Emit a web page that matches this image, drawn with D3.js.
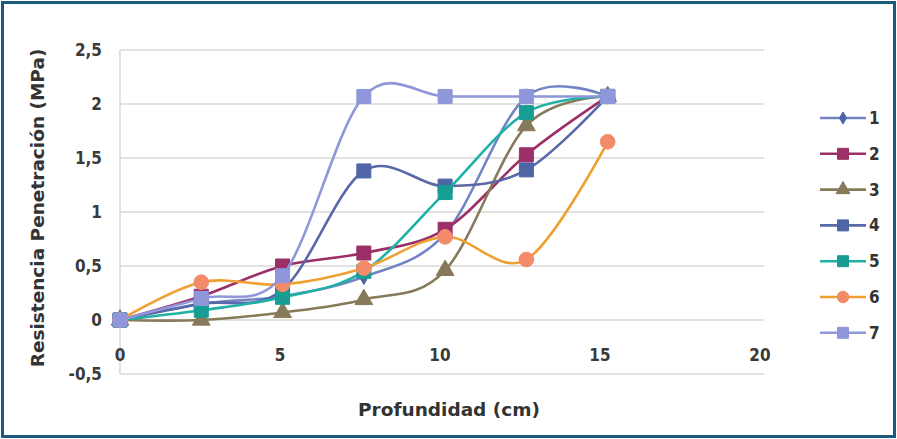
<!DOCTYPE html>
<html>
<head>
<meta charset="utf-8">
<script src="https://cdn.jsdelivr.net/npm/d3@7"></script>
<style>
  html, body { margin: 0; padding: 0; background: #fff; }
  svg { display: block; }
</style>
</head>
<body>
<svg id="chart" width="897" height="439"></svg>
<script>
// Depth of each reading (cm)
const depths = [0, 2.54, 5.08, 7.62, 10.16, 12.7, 15.24];

// Penetration resistance (MPa) per sampling point
const s1 = [0, 0.15, 0.22, 0.40, 0.80, 2.07, 2.07];
const s2 = [0, 0.22, 0.50, 0.62, 0.84, 1.53, 2.07];
const s3 = [0, 0.00, 0.07, 0.19, 0.46, 1.80, 2.07];
const s4 = [0, 0.15, 0.28, 1.38, 1.24, 1.39, 2.07];
const s5 = [0, 0.09, 0.21, 0.45, 1.18, 1.92, 2.07];
const s6 = [0, 0.35, 0.33, 0.48, 0.77, 0.56, 1.65];
const s7 = [0, 0.20, 0.41, 2.07, 2.07, 2.07, 2.07];

const seriesNames = ["1", "2", "3", "4", "5", "6", "7"];
const seriesValues = [s1, s2, s3, s4, s5, s6, s7];

const xTicks = [0, 5, 10, 15, 20];
const yTicks = [-0.5, 0, 0.5, 1, 1.5, 2, 2.5];
const yTickLabels = ["-0,5", "0", "0,5", "1", "1,5", "2", "2,5"];

const styles = [
  { line: "#7384c4", fill: "#4a62a8", shape: "diamond" },
  { line: "#9c2f68", fill: "#9c2f68", shape: "square" },
  { line: "#877a5a", fill: "#877a5a", shape: "triangle" },
  { line: "#5868a8", fill: "#4e66a6", shape: "square" },
  { line: "#1fb0a6", fill: "#179e94", shape: "square" },
  { line: "#f0a030", fill: "#f38a6a", shape: "circle" },
  { line: "#8f97da", fill: "#8f97da", shape: "square" }
];

const svg = d3.select("#chart");
const W = 897, H = 439;

// outer frame
svg.append("rect").attr("x", 2.5).attr("y", 2.5).attr("width", W - 5).attr("height", H - 5)
  .attr("fill", "#fff").attr("stroke", "#1d5b7c").attr("stroke-width", 3);

const x = d3.scaleLinear().domain([0, 20]).range([120, 760]);
const y = d3.scaleLinear().domain([-0.5, 2.5]).range([374, 50]);

const tickFont = "'DejaVu Sans Condensed', 'DejaVu Sans', sans-serif";
const titleFont = "'DejaVu Sans', sans-serif";

// horizontal gridlines
svg.append("g").selectAll("line").data(yTicks).join("line")
  .attr("x1", 120).attr("x2", 764)
  .attr("y1", d => y(d)).attr("y2", d => y(d))
  .attr("stroke", "#d9d9d9").attr("stroke-width", 1.5);

// vertical axis line
svg.append("line").attr("x1", 120).attr("x2", 120).attr("y1", y(2.5)).attr("y2", y(-0.5))
  .attr("stroke", "#d9d9d9").attr("stroke-width", 1.5);

// y tick labels
svg.append("g").selectAll("text").data(yTicks).join("text")
  .attr("x", 102).attr("y", d => y(d)).attr("dy", "0.35em")
  .attr("text-anchor", "end")
  .attr("font-family", tickFont).attr("font-weight", "bold").attr("font-size", 17).attr("fill", "#3a3a3a")
  .text((d, i) => yTickLabels[i]);

// x tick labels
svg.append("g").selectAll("text").data(xTicks).join("text")
  .attr("x", d => x(d)).attr("y", 355).attr("dy", "0.35em")
  .attr("text-anchor", "middle")
  .attr("font-family", tickFont).attr("font-weight", "bold").attr("font-size", 17).attr("fill", "#3a3a3a")
  .text(d => d);

// axis titles
svg.append("text").attr("transform", `translate(38,208) rotate(-90)`)
  .attr("text-anchor", "middle").attr("dy", "0.35em")
  .attr("font-family", titleFont).attr("font-weight", "bold").attr("font-size", 18.5).attr("fill", "#333")
  .text("Resistencia Penetración (MPa)");

svg.append("text").attr("x", 449).attr("y", 410).attr("dy", "0.35em")
  .attr("text-anchor", "middle")
  .attr("font-family", titleFont).attr("font-weight", "bold").attr("font-size", 18.5).attr("fill", "#333")
  .text("Profundidad (cm)");

const line = d3.line().curve(d3.curveCardinal.tension(0))
  .x((d, i) => x(depths[i])).y(d => y(d));

function marker(sel, st, size) {
  const sym = {
    diamond: d3.symbolDiamond, square: d3.symbolSquare,
    triangle: d3.symbolTriangle, circle: d3.symbolCircle
  }[st.shape];
  const area = st.shape === "square" ? size * size
    : st.shape === "circle" ? Math.PI * (size / 2) * (size / 2) * 1.1
    : st.shape === "triangle" ? size * size * 0.7
    : size * size * 0.35;
  sel.append("path").attr("d", d3.symbol(sym, area)())
    .attr("fill", st.fill).attr("stroke", st.fill).attr("stroke-width", 1);
}

// series lines and markers
seriesValues.forEach((vals, k) => {
  const st = styles[k];
  const g = svg.append("g");
  g.append("path").attr("d", line(vals)).attr("fill", "none")
    .attr("stroke", st.line).attr("stroke-width", 2.6);
  vals.forEach((v, i) => {
    const m = g.append("g").attr("transform", `translate(${x(depths[i])},${y(v)})`);
    marker(m, st, 14);
  });
});

// legend
const legY0 = 118, legStep = 35.8;
seriesNames.forEach((name, k) => {
  const st = styles[k];
  const ly = legY0 + k * legStep;
  const g = svg.append("g");
  g.append("line").attr("x1", 820).attr("x2", 866).attr("y1", ly).attr("y2", ly)
    .attr("stroke", st.line).attr("stroke-width", 2.6);
  const m = g.append("g").attr("transform", `translate(843,${ly})`);
  marker(m, st, 11);
  g.append("text").attr("x", 869).attr("y", ly).attr("dy", "0.35em")
    .attr("font-family", tickFont).attr("font-weight", "bold").attr("font-size", 17).attr("fill", "#333")
    .text(name);
});
</script>
</body>
</html>
